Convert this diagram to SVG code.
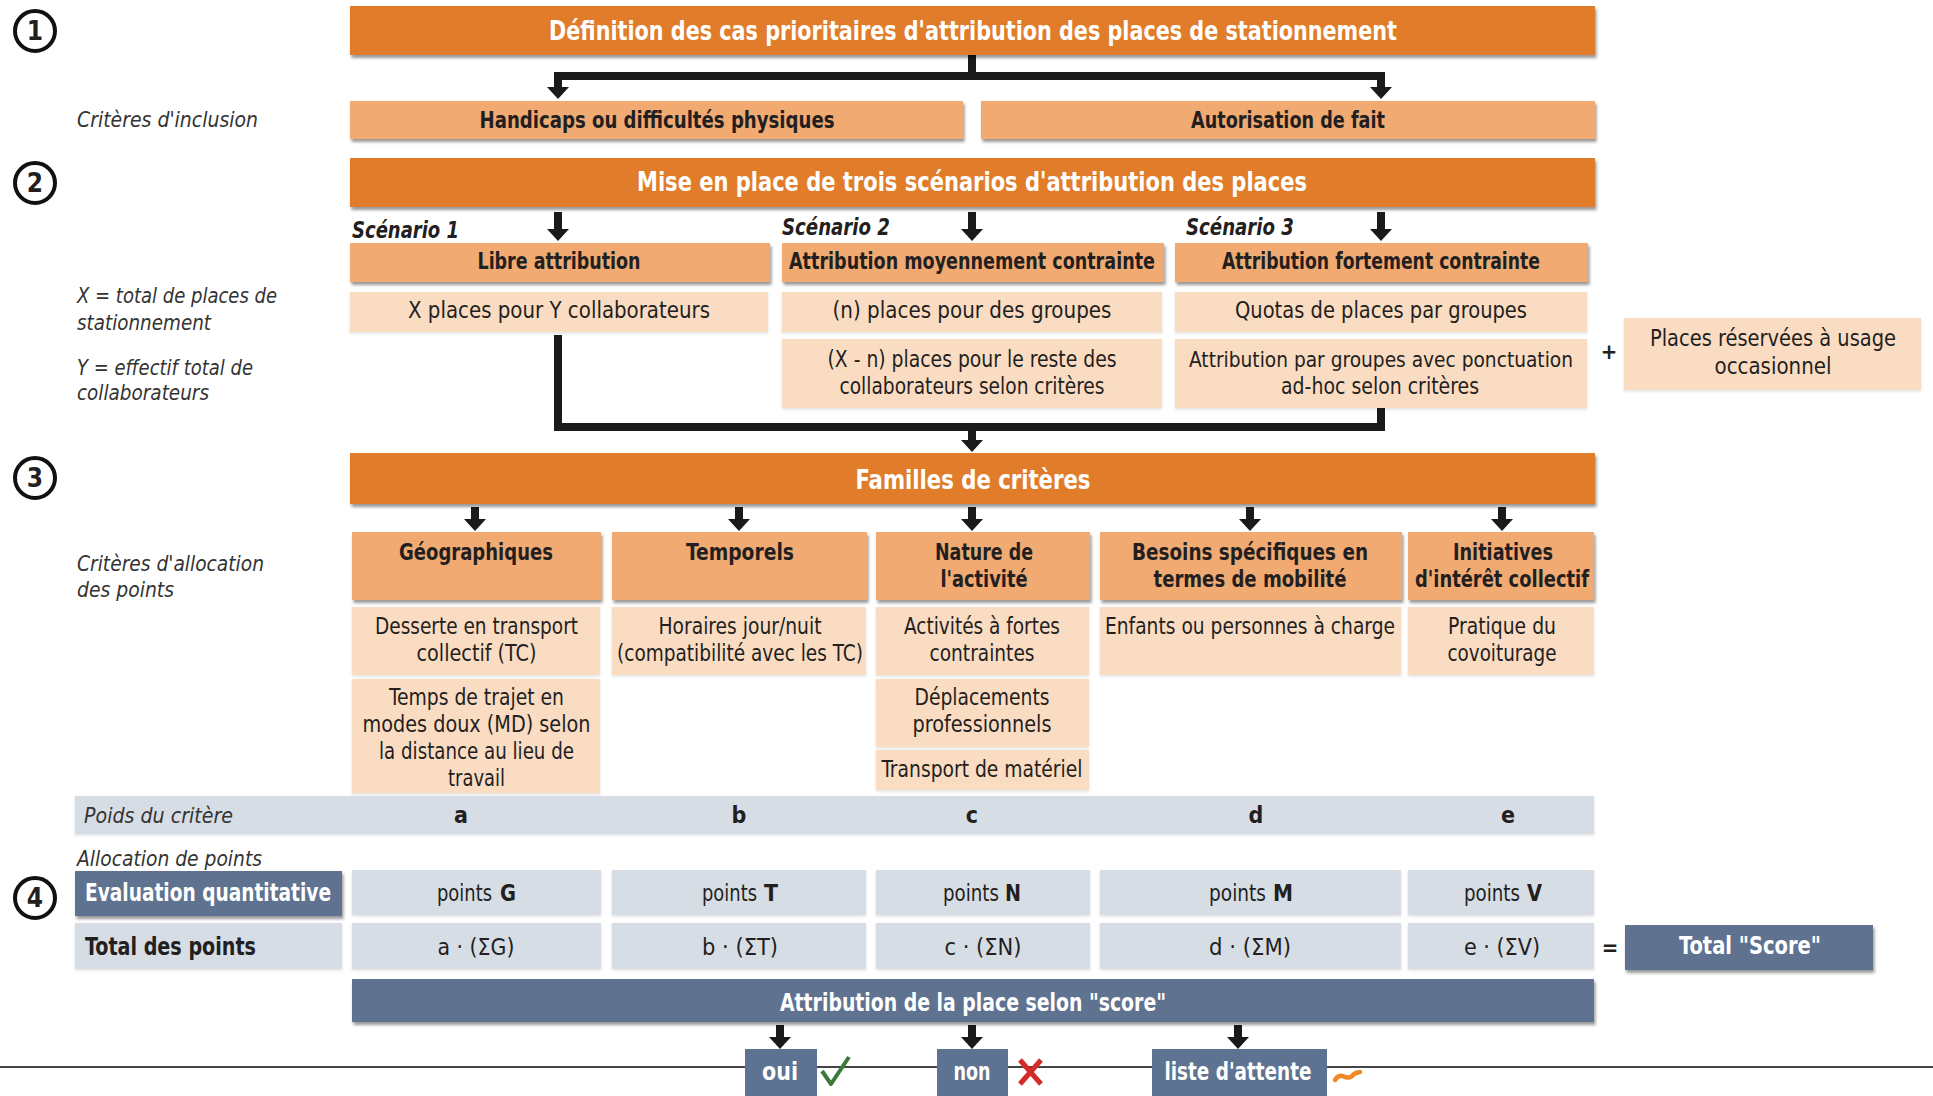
<svg xmlns="http://www.w3.org/2000/svg" width="1933" height="1096" viewBox="0 0 1933 1096">
<defs>
<style>
text{font-family:"Liberation Sans Narrow","Arial Narrow","DejaVu Sans Condensed","Liberation Sans",sans-serif;fill:#231f20;}
.c{text-anchor:middle;}
.e{text-anchor:end;}
.wb{fill:#ffffff;font-weight:bold;font-size:26px;}
.ws{fill:#ffffff;font-weight:bold;font-size:24px;}
.db{font-weight:bold;font-size:23px;}
.dr{font-size:23px;}
.it{font-style:italic;font-size:21px;fill:#333333;}
.bi{font-style:italic;font-weight:bold;font-size:23px;}
.num{font-weight:bold;font-size:26px;text-anchor:middle;}
.bar{fill:#e17d2a;}
.mo{fill:#f0aa72;}
.lp{fill:#fadcc3;}
.gb{fill:#d7dde5;}
.sl{fill:#5e7391;}
.circ{fill:#ffffff;stroke:#111111;stroke-width:4;}
.con{fill:none;stroke:#1a1a1a;stroke-width:8;stroke-linejoin:miter;}
.arr{fill:none;stroke:#1a1a1a;stroke-width:8;}
</style>
<filter id="sh" x="-5%" y="-20%" width="110%" height="160%">
<feDropShadow dx="1.5" dy="3" stdDeviation="1.8" flood-color="#000000" flood-opacity="0.4"/>
</filter>
<filter id="sh2" x="-5%" y="-20%" width="110%" height="160%">
<feDropShadow dx="0" dy="1.5" stdDeviation="1.5" flood-color="#000000" flood-opacity="0.12"/>
</filter>
<marker id="ah" viewBox="0 -11 12 22" markerUnits="userSpaceOnUse" markerWidth="12" markerHeight="22" refX="0" refY="0" orient="auto">
<path d="M0,-11 L12,0 L0,11 Z" fill="#1a1a1a"/>
</marker>
</defs>
<rect width="1933" height="1096" fill="#ffffff"/>

<g id="step-numbers">
<circle class="circ" cx="35" cy="31" r="20"/><text class="num" x="35" y="40">1</text>
<circle class="circ" cx="35" cy="183" r="20"/><text class="num" x="35" y="192">2</text>
<circle class="circ" cx="35" cy="478" r="20"/><text class="num" x="35" y="487">3</text>
<circle class="circ" cx="35" cy="898" r="20"/><text class="num" x="35" y="907">4</text>
</g>

<g id="side-labels">
<text class="it" x="77" y="127" textLength="181" lengthAdjust="spacingAndGlyphs">Critères d'inclusion</text>
<text class="it" x="77" y="303" textLength="200" lengthAdjust="spacingAndGlyphs">X = total de places de</text>
<text class="it" x="77" y="330" textLength="134" lengthAdjust="spacingAndGlyphs">stationnement</text>
<text class="it" x="77" y="375" textLength="176" lengthAdjust="spacingAndGlyphs">Y = effectif total de</text>
<text class="it" x="77" y="400" textLength="132" lengthAdjust="spacingAndGlyphs">collaborateurs</text>
<text class="it" x="77" y="571" textLength="187" lengthAdjust="spacingAndGlyphs">Critères d'allocation</text>
<text class="it" x="77" y="597" textLength="97" lengthAdjust="spacingAndGlyphs">des points</text>
<text class="it" x="77" y="866" textLength="185" lengthAdjust="spacingAndGlyphs">Allocation de points</text>
</g>

<g id="connectors">
<path class="con" d="M972,55 V76 H558 V87" marker-end="url(#ah)"/>
<path class="con" d="M972,76 H1381 V87" marker-end="url(#ah)"/>
<path class="arr" d="M558,212 V229" marker-end="url(#ah)"/>
<path class="arr" d="M972,212 V229" marker-end="url(#ah)"/>
<path class="arr" d="M1381,212 V229" marker-end="url(#ah)"/>
<path class="con" d="M558,335 V427 H1381 V408"/>
<path class="arr" d="M972,427 V440" marker-end="url(#ah)"/>
<path class="arr" d="M475,507 V519" marker-end="url(#ah)"/>
<path class="arr" d="M739,507 V519" marker-end="url(#ah)"/>
<path class="arr" d="M972,507 V519" marker-end="url(#ah)"/>
<path class="arr" d="M1250,507 V519" marker-end="url(#ah)"/>
<path class="arr" d="M1502,507 V519" marker-end="url(#ah)"/>
<path class="arr" d="M780,1025 V1037" marker-end="url(#ah)"/>
<path class="arr" d="M972,1025 V1037" marker-end="url(#ah)"/>
<path class="arr" d="M1238,1025 V1037" marker-end="url(#ah)"/>
<line x1="0" y1="1067" x2="1933" y2="1067" stroke="#444444" stroke-width="2"/>
</g>

<g id="bar-definition">
<rect class="bar" x="350" y="6" width="1245" height="49" filter="url(#sh)"/>
<text class="wb c" x="973" y="39.5" textLength="848" lengthAdjust="spacingAndGlyphs">Définition des cas prioritaires d'attribution des places de stationnement</text>
</g>
<g id="handicaps">
<rect class="mo" x="350" y="101" width="613" height="38" filter="url(#sh)"/>
<text class="db c" x="657" y="128" textLength="355" lengthAdjust="spacingAndGlyphs">Handicaps ou difficultés physiques</text>
</g>
<g id="autorisation">
<rect class="mo" x="981" y="101" width="614" height="38" filter="url(#sh)"/>
<text class="db c" x="1288" y="128" textLength="194" lengthAdjust="spacingAndGlyphs">Autorisation de fait</text>
</g>

<g id="bar-scenarios">
<rect class="bar" x="350" y="158" width="1245" height="49" filter="url(#sh)"/>
<text class="wb c" x="972" y="191" textLength="670" lengthAdjust="spacingAndGlyphs">Mise en place de trois scénarios d'attribution des places</text>
</g>
<g id="scenario-labels">
<text class="bi" x="352" y="238" textLength="107" lengthAdjust="spacingAndGlyphs">Scénario 1</text>
<text class="bi" x="782" y="235" textLength="108" lengthAdjust="spacingAndGlyphs">Scénario 2</text>
<text class="bi" x="1186" y="235" textLength="108" lengthAdjust="spacingAndGlyphs">Scénario 3</text>
</g>
<g id="scenario1">
<rect class="mo" x="350" y="243" width="420" height="39" filter="url(#sh)"/>
<text class="db c" x="559" y="269" textLength="163" lengthAdjust="spacingAndGlyphs">Libre attribution</text>
<rect class="lp" x="350" y="292" width="418" height="40" filter="url(#sh2)"/>
<text class="dr c" x="559" y="318" textLength="302" lengthAdjust="spacingAndGlyphs">X places pour Y collaborateurs</text>
</g>
<g id="scenario2">
<rect class="mo" x="782" y="243" width="382" height="39" filter="url(#sh)"/>
<text class="db c" x="972" y="269" textLength="366" lengthAdjust="spacingAndGlyphs">Attribution moyennement contrainte</text>
<rect class="lp" x="782" y="292" width="380" height="40" filter="url(#sh2)"/>
<text class="dr c" x="972" y="318" textLength="279" lengthAdjust="spacingAndGlyphs">(n) places pour des groupes</text>
<rect class="lp" x="782" y="339" width="380" height="69" filter="url(#sh2)"/>
<text class="dr c" x="972" y="367" textLength="289" lengthAdjust="spacingAndGlyphs">(X - n) places pour le reste des</text>
<text class="dr c" x="972" y="394" textLength="265" lengthAdjust="spacingAndGlyphs">collaborateurs selon critères</text>
</g>
<g id="scenario3">
<rect class="mo" x="1175" y="243" width="413" height="39" filter="url(#sh)"/>
<text class="db c" x="1381" y="269" textLength="318" lengthAdjust="spacingAndGlyphs">Attribution fortement contrainte</text>
<rect class="lp" x="1175" y="292" width="412" height="40" filter="url(#sh2)"/>
<text class="dr c" x="1381" y="318" textLength="292" lengthAdjust="spacingAndGlyphs">Quotas de places par groupes</text>
<rect class="lp" x="1175" y="339" width="412" height="69" filter="url(#sh2)"/>
<text class="dr c" x="1381" y="367" style="font-size:21px" textLength="384" lengthAdjust="spacingAndGlyphs">Attribution par groupes avec ponctuation</text>
<text class="dr c" x="1380" y="394" textLength="198" lengthAdjust="spacingAndGlyphs">ad-hoc selon critères</text>
</g>
<g id="places-reservees">
<text class="db c" x="1609" y="359" style="font-size:22px">+</text>
<rect class="lp" x="1624" y="318" width="297" height="72" filter="url(#sh2)"/>
<text class="dr c" x="1773" y="346" textLength="246" lengthAdjust="spacingAndGlyphs">Places réservées à usage</text>
<text class="dr c" x="1773" y="374" textLength="117" lengthAdjust="spacingAndGlyphs">occasionnel</text>
</g>

<g id="bar-familles">
<rect class="bar" x="350" y="453" width="1245" height="51" filter="url(#sh)"/>
<text class="wb c" x="973" y="489" textLength="235" lengthAdjust="spacingAndGlyphs">Familles de critères</text>
</g>
<g id="geographiques">
<rect class="mo" x="352" y="532" width="249" height="68" filter="url(#sh)"/>
<text class="db c" x="476" y="560" textLength="154" lengthAdjust="spacingAndGlyphs">Géographiques</text>
<rect class="lp" x="352" y="607" width="248" height="68" filter="url(#sh2)"/>
<text class="dr c" x="476.5" y="634" textLength="203" lengthAdjust="spacingAndGlyphs">Desserte en transport</text>
<text class="dr c" x="476.5" y="661" textLength="120" lengthAdjust="spacingAndGlyphs">collectif (TC)</text>
<rect class="lp" x="352" y="679" width="248" height="114" filter="url(#sh2)"/>
<text class="dr c" x="476.5" y="705" textLength="175" lengthAdjust="spacingAndGlyphs">Temps de trajet en</text>
<text class="dr c" x="476.5" y="732" textLength="228" lengthAdjust="spacingAndGlyphs">modes doux (MD) selon</text>
<text class="dr c" x="476.5" y="759" textLength="195" lengthAdjust="spacingAndGlyphs">la distance au lieu de</text>
<text class="dr c" x="476.5" y="786" textLength="57" lengthAdjust="spacingAndGlyphs">travail</text>
</g>
<g id="temporels">
<rect class="mo" x="612" y="532" width="255" height="68" filter="url(#sh)"/>
<text class="db c" x="740" y="560" textLength="108" lengthAdjust="spacingAndGlyphs">Temporels</text>
<rect class="lp" x="612" y="607" width="254" height="68" filter="url(#sh2)"/>
<text class="dr c" x="740" y="634" textLength="163" lengthAdjust="spacingAndGlyphs">Horaires jour/nuit</text>
<text class="dr c" x="740" y="661" textLength="246" lengthAdjust="spacingAndGlyphs">(compatibilité avec les TC)</text>
</g>
<g id="nature">
<rect class="mo" x="876" y="532" width="214" height="68" filter="url(#sh)"/>
<text class="db c" x="984" y="560" textLength="98" lengthAdjust="spacingAndGlyphs">Nature de</text>
<text class="db c" x="984" y="587" textLength="87" lengthAdjust="spacingAndGlyphs">l'activité</text>
<rect class="lp" x="876" y="607" width="213" height="68" filter="url(#sh2)"/>
<text class="dr c" x="982" y="634" textLength="156" lengthAdjust="spacingAndGlyphs">Activités à fortes</text>
<text class="dr c" x="982" y="661" textLength="105" lengthAdjust="spacingAndGlyphs">contraintes</text>
<rect class="lp" x="876" y="679" width="213" height="68" filter="url(#sh2)"/>
<text class="dr c" x="982" y="705" textLength="135" lengthAdjust="spacingAndGlyphs">Déplacements</text>
<text class="dr c" x="982" y="732" textLength="139" lengthAdjust="spacingAndGlyphs">professionnels</text>
<rect class="lp" x="876" y="750" width="213" height="40" filter="url(#sh2)"/>
<text class="dr c" x="982" y="777" textLength="201" lengthAdjust="spacingAndGlyphs">Transport de matériel</text>
</g>
<g id="besoins">
<rect class="mo" x="1100" y="532" width="302" height="68" filter="url(#sh)"/>
<text class="db c" x="1250" y="560" textLength="236" lengthAdjust="spacingAndGlyphs">Besoins spécifiques en</text>
<text class="db c" x="1250" y="587" textLength="193" lengthAdjust="spacingAndGlyphs">termes de mobilité</text>
<rect class="lp" x="1100" y="607" width="301" height="68" filter="url(#sh2)"/>
<text class="dr c" x="1250" y="634" textLength="290" lengthAdjust="spacingAndGlyphs">Enfants ou personnes à charge</text>
</g>
<g id="initiatives">
<rect class="mo" x="1408" y="532" width="186" height="68" filter="url(#sh)"/>
<text class="db c" x="1503" y="560" textLength="100" lengthAdjust="spacingAndGlyphs">Initiatives</text>
<text class="db c" x="1502" y="587" textLength="174" lengthAdjust="spacingAndGlyphs">d'intérêt collectif</text>
<rect class="lp" x="1408" y="607" width="186" height="68" filter="url(#sh2)"/>
<text class="dr c" x="1502" y="634" textLength="108" lengthAdjust="spacingAndGlyphs">Pratique du</text>
<text class="dr c" x="1502" y="661" textLength="109" lengthAdjust="spacingAndGlyphs">covoiturage</text>
</g>

<g id="poids">
<rect class="gb" x="75" y="796" width="1519" height="38" filter="url(#sh2)"/>
<text class="it" x="84" y="823" textLength="149" lengthAdjust="spacingAndGlyphs">Poids du critère</text>
<text class="db c" x="461" y="823">a</text>
<text class="db c" x="739" y="823">b</text>
<text class="db c" x="972" y="823">c</text>
<text class="db c" x="1256" y="823">d</text>
<text class="db c" x="1508" y="823">e</text>
</g>

<g id="evaluation">
<rect class="sl" x="75" y="871" width="267" height="45" filter="url(#sh)"/>
<text class="ws" x="85" y="901" textLength="246" lengthAdjust="spacingAndGlyphs">Evaluation quantitative</text>
<rect class="gb" x="352" y="870" width="249" height="45" filter="url(#sh2)"/>
<text class="dr" x="437" y="901" textLength="55" lengthAdjust="spacingAndGlyphs">points</text>
<text class="db e" x="516" y="901" textLength="16" lengthAdjust="spacingAndGlyphs">G</text>
<rect class="gb" x="612" y="870" width="254" height="45" filter="url(#sh2)"/>
<text class="dr" x="702" y="901" textLength="55" lengthAdjust="spacingAndGlyphs">points</text>
<text class="db e" x="778" y="901" textLength="14" lengthAdjust="spacingAndGlyphs">T</text>
<rect class="gb" x="876" y="870" width="214" height="45" filter="url(#sh2)"/>
<text class="dr" x="943" y="901" textLength="56" lengthAdjust="spacingAndGlyphs">points</text>
<text class="db e" x="1021" y="901" textLength="16" lengthAdjust="spacingAndGlyphs">N</text>
<rect class="gb" x="1100" y="870" width="301" height="45" filter="url(#sh2)"/>
<text class="dr" x="1209" y="901" textLength="57" lengthAdjust="spacingAndGlyphs">points</text>
<text class="db e" x="1293" y="901" textLength="20" lengthAdjust="spacingAndGlyphs">M</text>
<rect class="gb" x="1408" y="870" width="186" height="45" filter="url(#sh2)"/>
<text class="dr" x="1464" y="901" textLength="56" lengthAdjust="spacingAndGlyphs">points</text>
<text class="db e" x="1542" y="901" textLength="15" lengthAdjust="spacingAndGlyphs">V</text>
</g>

<g id="total-points">
<rect class="gb" x="75" y="923" width="267" height="46" filter="url(#sh2)"/>
<text class="db" x="85" y="955" style="font-size:24px" textLength="171" lengthAdjust="spacingAndGlyphs">Total des points</text>
<rect class="gb" x="352" y="923" width="249" height="46" filter="url(#sh2)"/>
<text class="dr c" x="476" y="955" textLength="77" lengthAdjust="spacingAndGlyphs">a · (ΣG)</text>
<rect class="gb" x="612" y="923" width="254" height="46" filter="url(#sh2)"/>
<text class="dr c" x="740" y="955" textLength="76" lengthAdjust="spacingAndGlyphs">b · (ΣT)</text>
<rect class="gb" x="876" y="923" width="214" height="46" filter="url(#sh2)"/>
<text class="dr c" x="983" y="955" textLength="77" lengthAdjust="spacingAndGlyphs">c · (ΣN)</text>
<rect class="gb" x="1100" y="923" width="301" height="46" filter="url(#sh2)"/>
<text class="dr c" x="1250" y="955" textLength="82" lengthAdjust="spacingAndGlyphs">d · (ΣM)</text>
<rect class="gb" x="1408" y="923" width="186" height="46" filter="url(#sh2)"/>
<text class="dr c" x="1502" y="955" textLength="76" lengthAdjust="spacingAndGlyphs">e · (ΣV)</text>
</g>

<g id="total-score">
<text class="db c" x="1610" y="955" style="font-size:22px">=</text>
<rect class="sl" x="1625" y="925" width="248" height="45" filter="url(#sh)"/>
<text class="ws c" x="1750" y="954" textLength="142" lengthAdjust="spacingAndGlyphs">Total "Score"</text>
</g>

<g id="attribution-score">
<rect class="sl" x="352" y="979" width="1242" height="43" filter="url(#sh)"/>
<text class="ws c" x="973" y="1011" textLength="386" lengthAdjust="spacingAndGlyphs">Attribution de la place selon "score"</text>
</g>

<g id="oui">
<rect class="sl" x="745" y="1049" width="72" height="50"/>
<text class="ws c" x="780" y="1080" textLength="36" lengthAdjust="spacingAndGlyphs">oui</text>
<path d="M822,1071 L831,1084 L849,1057" fill="none" stroke="#3d7a3a" stroke-width="4" stroke-linejoin="round"/>
</g>
<g id="non">
<rect class="sl" x="937" y="1049" width="71" height="50"/>
<text class="ws c" x="972" y="1080" textLength="37" lengthAdjust="spacingAndGlyphs">non</text>
<path d="M1020,1060 L1041,1084 M1041,1060 L1020,1084" fill="none" stroke="#d42a2a" stroke-width="5"/>
</g>
<g id="liste-attente">
<rect class="sl" x="1152" y="1049" width="175" height="50"/>
<text class="ws c" x="1238" y="1080" textLength="147" lengthAdjust="spacingAndGlyphs">liste d'attente</text>
<path d="M1335,1080 C1341,1070 1347,1082 1352,1076 C1355,1072 1358,1073 1360,1072" fill="none" stroke="#f08a24" stroke-width="4.5" stroke-linecap="round"/>
</g>
</svg>
